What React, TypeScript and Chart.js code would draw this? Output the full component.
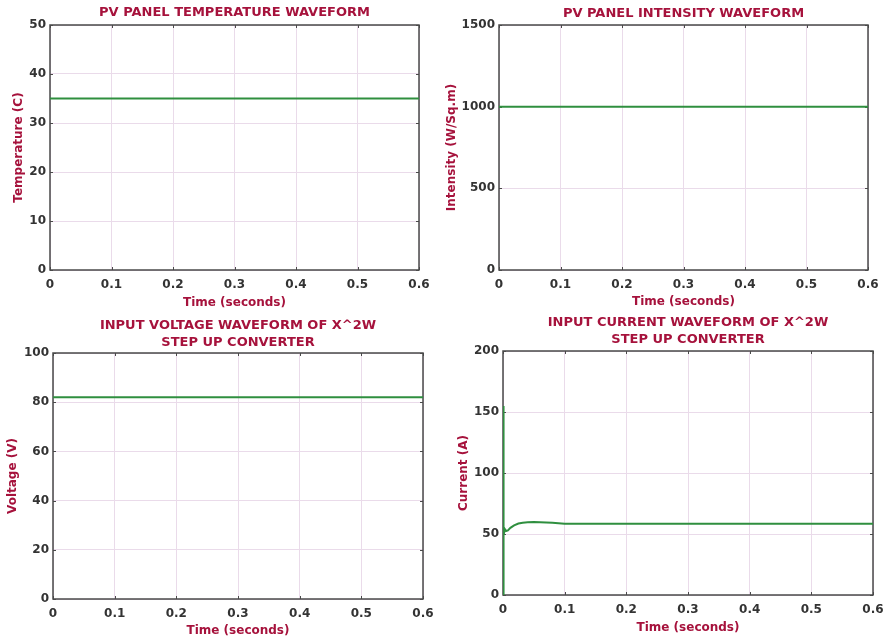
import React, { useEffect, useRef } from "react";
import { Chart, registerables } from "chart.js";

Chart.register(...registerables);

// ---- Data ----
const timeConst = [0, 0.1, 0.2, 0.3, 0.4, 0.5, 0.6];
const temperatureValues = [35, 35, 35, 35, 35, 35, 35];
const intensityValues = [1000, 1000, 1000, 1000, 1000, 1000, 1000];
const voltageValues = [82, 82, 82, 82, 82, 82, 82];
const currentTime = [0, 0.0004, 0.0008, 0.0015, 0.003, 0.005, 0.008, 0.012, 0.018, 0.025, 0.032, 0.04, 0.05, 0.06, 0.07, 0.08, 0.09, 0.1, 0.15, 0.2, 0.3, 0.4, 0.5, 0.6];
const currentValues = [0, 155, 95, 49, 54, 52.5, 53, 55, 57, 58.6, 59.3, 59.7, 59.8, 59.6, 59.5, 59.3, 58.8, 58.4, 58.3, 58.3, 58.3, 58.3, 58.3, 58.3];

const xTicks = [0, 0.1, 0.2, 0.3, 0.4, 0.5, 0.6];
const tempTicks = [0, 10, 20, 30, 40, 50];
const intensityTicks = [0, 500, 1000, 1500];
const voltageTicks = [0, 20, 40, 60, 80, 100];
const currentTicks = [0, 50, 100, 150, 200];

const TITLE_COLOR = "#a6123c";
const TICK_COLOR = "#333333";
const GRID_COLOR = "#eadbea";
const LINE_COLOR = "#2f8f3f";
const FRAME_COLOR = "#4a4a4a";
const FONT = "'DejaVu Sans', Verdana, sans-serif";

type PanelCfg = {
  title: string[];
  yTitle: string;
  xs: number[];
  ys: number[];
  yTicks: number[];
  canvas: { l: number; t: number; r: number; b: number };
  plot: { l: number; t: number; r: number; b: number };
  titlePadTop: number;
  xTickPad: number;
};

const panels: PanelCfg[] = [
  {
    title: ["PV PANEL TEMPERATURE WAVEFORM"],
    yTitle: "Temperature (C)",
    xs: timeConst,
    ys: temperatureValues,
    yTicks: tempTicks,
    canvas: { l: 12, t: 0, r: 435, b: 310 },
    plot: { l: 50, t: 25, r: 419, b: 270 },
    titlePadTop: 4.3,
    xTickPad: 8,
  },
  {
    title: ["PV PANEL INTENSITY WAVEFORM"],
    yTitle: "Intensity (W/Sq.m)",
    xs: timeConst,
    ys: intensityValues,
    yTicks: intensityTicks,
    canvas: { l: 445, t: 0, r: 884, b: 309 },
    plot: { l: 499, t: 25, r: 868, b: 270 },
    titlePadTop: 5.3,
    xTickPad: 7.5,
  },
  {
    title: ["INPUT VOLTAGE WAVEFORM OF X^2W", "STEP UP CONVERTER"],
    yTitle: "Voltage (V)",
    xs: timeConst,
    ys: voltageValues,
    yTicks: voltageTicks,
    canvas: { l: 6, t: 305, r: 439, b: 638 },
    plot: { l: 53, t: 353, r: 423, b: 599 },
    titlePadTop: 12.6,
    xTickPad: 7.3,
  },
  {
    title: ["INPUT CURRENT WAVEFORM OF X^2W", "STEP UP CONVERTER"],
    yTitle: "Current (A)",
    xs: currentTime,
    ys: currentValues,
    yTicks: currentTicks,
    canvas: { l: 457, t: 305, r: 889, b: 635 },
    plot: { l: 503, t: 351, r: 873, b: 595 },
    titlePadTop: 9.8,
    xTickPad: 7.2,
  },
];

const TITLE_SIZE = 13;
const TITLE_LH = 1.277;

const framePlugin = {
  id: "frame",
  beforeDatasetsDraw(chart: any) {
    const { ctx, chartArea } = chart;
    const { left, top, right, bottom } = chartArea;
    ctx.save();
    ctx.strokeStyle = FRAME_COLOR;
    ctx.lineWidth = 1.5;
    ctx.strokeRect(left, top, right - left, bottom - top);
    // small inward tick marks on all four sides
    ctx.lineWidth = 1;
    const tl = 3;
    ctx.beginPath();
    chart.scales.x.ticks.forEach((t: any) => {
      const px = Math.round(chart.scales.x.getPixelForValue(t.value)) + 0.5;
      ctx.moveTo(px, bottom);
      ctx.lineTo(px, bottom - tl);
      ctx.moveTo(px, top);
      ctx.lineTo(px, top + tl);
    });
    chart.scales.y.ticks.forEach((t: any) => {
      const py = Math.round(chart.scales.y.getPixelForValue(t.value)) + 0.5;
      ctx.moveTo(left, py);
      ctx.lineTo(left + tl, py);
      ctx.moveTo(right, py);
      ctx.lineTo(right - tl, py);
    });
    ctx.stroke();
    ctx.restore();
  },
};

function Panel({ cfg }: { cfg: PanelCfg }) {
  const ref = useRef<HTMLCanvasElement>(null);
  useEffect(() => {
    if (!ref.current) return;
    const { canvas, plot } = cfg;
    const lh = TITLE_SIZE * TITLE_LH;
    const titleBox = plot.t - canvas.t;
    const padBottom = titleBox - cfg.titlePadTop - lh * cfg.title.length;
    const yWidth = plot.l - canvas.l;
    const xHeight = canvas.b - plot.b;
    const padRight = canvas.r - plot.r;
    const yMin = cfg.yTicks[0];
    const yMax = cfg.yTicks[cfg.yTicks.length - 1];
    const yStep = cfg.yTicks[1] - cfg.yTicks[0];
    const chart = new Chart(ref.current, {
      type: "line",
      data: {
        datasets: [
          {
            data: cfg.xs.map((x, i) => ({ x, y: cfg.ys[i] })),
            borderColor: LINE_COLOR,
            borderWidth: 2,
            pointRadius: 0,
            tension: 0,
            fill: false,
          },
        ],
      },
      plugins: [framePlugin],
      options: {
        responsive: false,
        animation: false,
        layout: { padding: { left: 0, top: 0, right: padRight, bottom: 0 } },
        plugins: {
          legend: { display: false },
          tooltip: { enabled: false },
          title: {
            display: true,
            text: cfg.title,
            color: TITLE_COLOR,
            fullSize: false,
            font: { family: FONT, size: TITLE_SIZE, weight: "bold", lineHeight: TITLE_LH },
            padding: { top: cfg.titlePadTop, bottom: padBottom },
          },
        },
        scales: {
          x: {
            type: "linear",
            min: xTicks[0],
            max: xTicks[xTicks.length - 1],
            afterFit: (s: any) => {
              s.height = xHeight;
              s.paddingLeft = 0;
              s.paddingRight = 0;
            },
            afterBuildTicks: (s: any) => {
              s.ticks = xTicks.map((v) => ({ value: v }));
            },
            ticks: {
              color: TICK_COLOR,
              font: { family: FONT, size: 12, weight: "bold", lineHeight: 1.2 },
              padding: cfg.xTickPad,
              maxRotation: 0,
              autoSkip: false,
              callback: (v: any) => String(Number(Number(v).toFixed(1))),
            },
            grid: { color: GRID_COLOR, drawTicks: false, lineWidth: 1 },
            border: { display: false },
            title: {
              display: true,
              text: "Time (seconds)",
              color: TITLE_COLOR,
              font: { family: FONT, size: 12, weight: "bold", lineHeight: 1.2 },
              padding: 0,
            },
          },
          y: {
            type: "linear",
            min: yMin,
            max: yMax,
            afterFit: (s: any) => {
              s.width = yWidth;
              s.paddingTop = 0;
              s.paddingBottom = 0;
            },
            ticks: {
              stepSize: yStep,
              color: TICK_COLOR,
              font: { family: FONT, size: 12, weight: "bold", lineHeight: 1.2 },
              padding: 4,
              callback: (v: any) => String(v),
            },
            grid: { color: GRID_COLOR, drawTicks: false, lineWidth: 1 },
            border: { display: false },
            title: {
              display: true,
              text: cfg.yTitle,
              color: TITLE_COLOR,
              font: { family: FONT, size: 12, weight: "bold", lineHeight: 1.2 },
              padding: 0,
            },
          },
        },
      } as any,
    });
    return () => chart.destroy();
  }, [cfg]);
  const w = cfg.canvas.r - cfg.canvas.l;
  const h = cfg.canvas.b - cfg.canvas.t;
  return (
    <canvas
      ref={ref}
      width={w}
      height={h}
      style={{ position: "absolute", left: cfg.canvas.l, top: cfg.canvas.t, width: w, height: h }}
    />
  );
}

export default function App() {
  return (
    <div style={{ position: "absolute", left: 0, top: 0, width: 885, height: 641, background: "#ffffff", overflow: "hidden" }}>
      {panels.map((p, i) => (
        <Panel key={i} cfg={p} />
      ))}
    </div>
  );
}
